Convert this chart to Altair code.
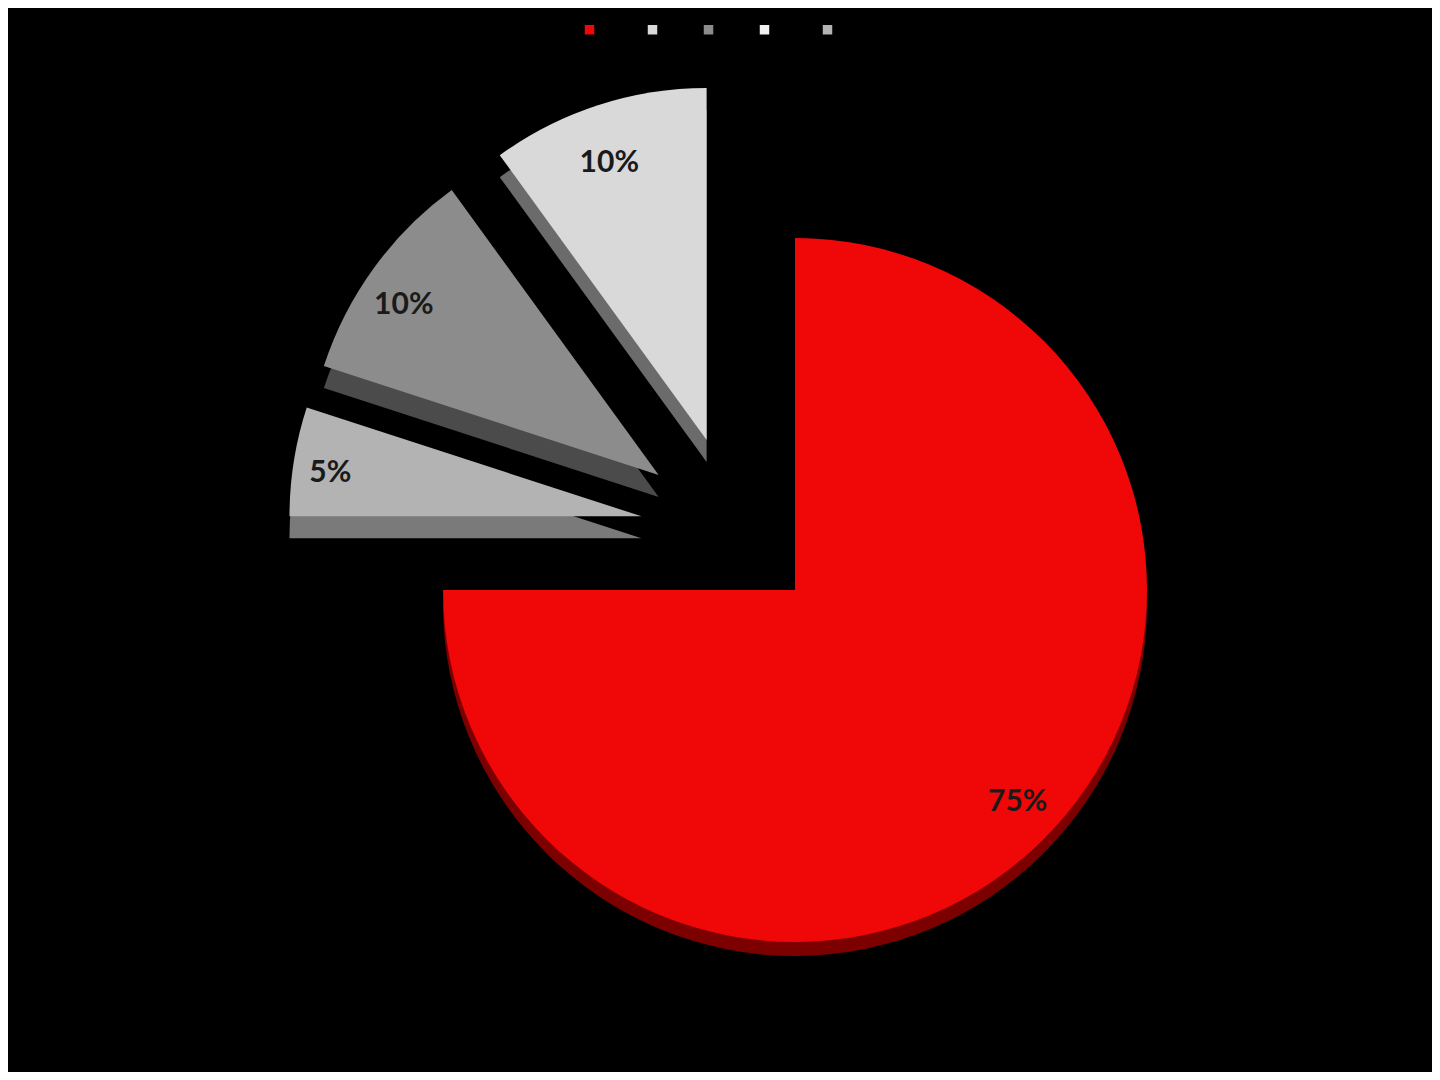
import altair as alt
import pandas as pd

# ---- data ----
categories = ["Primary", "Part A", "Part B", "Unused", "Part C"]
shares = [75, 10, 10, 0, 5]
# clockwise drawing order starting at 12 o'clock
draw_rank = [0, 4, 3, 1.5, 1]

# ---- styles ----
top_colors = ["#f00808", "#d9d9d9", "#8c8c8c", "#f2f2f2", "#b3b3b3"]
side_colors = ["#7d0000", "#6b6b6b", "#4b4b4b", "#bdbdbd", "#7a7a7a"]

W, H = 1424, 1064
CX, CY, R = 787, 582, 352
EXP, GEXP, GANG = 96, 83, "7*PI/4"
LABEL_R = 315
TILT = 0.95

df = pd.DataFrame({"cat": categories, "share": shares, "rank": draw_rank})

base = (
    alt.Chart(df)
    .transform_window(cum="sum(share)", sort=[alt.SortField("rank", order="ascending")], frame=[None, 0])
    .transform_joinaggregate(total="sum(share)")
    .transform_calculate(t1="2*PI*datum.cum/datum.total")
    .transform_calculate(t0="2*PI*(datum.cum-datum.share)/datum.total")
    .transform_calculate(mid="(datum.t0+datum.t1)/2")
    .transform_calculate(ex="datum.share/datum.total < 0.5 ? 1 : 0")
    .transform_calculate(cx=f"{CX} + datum.ex*({EXP}*sin(datum.mid) + {GEXP}*sin({GANG}))")
    .transform_calculate(cy=f"{CY} - datum.ex*({EXP}*cos(datum.mid) + {GEXP}*cos({GANG}))")
    .transform_calculate(depth="datum.ex ? 22 : 14")
    .transform_calculate(cys="datum.cy + datum.depth")
    .transform_calculate(lx=f"datum.cx + {LABEL_R}*sin(datum.mid)")
    .transform_calculate(ly=f"{CY} + (datum.cy - {LABEL_R}*cos(datum.mid) - {CY})*{TILT}")
    .transform_calculate(lab="datum.share + '%'")
)

shadow = base.mark_arc(radius=R, strokeWidth=0).encode(
    theta=alt.Theta("t0:Q", scale=None, stack=None),
    theta2="t1:Q",
    x=alt.X("cx:Q", scale=None, axis=None, stack=None),
    y=alt.Y("cys:Q", scale=None, axis=None, stack=None),
    fill=alt.Fill("cat:N", scale=alt.Scale(domain=categories, range=side_colors), legend=None),
)

top = base.mark_arc(radius=R, strokeWidth=0).encode(
    theta=alt.Theta("t0:Q", scale=None, stack=None),
    theta2="t1:Q",
    x=alt.X("cx:Q", scale=None, axis=None, stack=None),
    y=alt.Y("cy:Q", scale=None, axis=None, stack=None),
    color=alt.Color(
        "cat:N",
        scale=alt.Scale(domain=categories, range=top_colors),
        legend=alt.Legend(
            orient="none",
            legendX=576,
            legendY=16,
            direction="horizontal",
            title=None,
            symbolType="square",
            symbolSize=90,
            symbolStrokeWidth=0,
            labelColor="#000000",
            labelFont="Liberation Sans",
            labelFontSize=11,
            labelOffset=5,
            columnPadding=9,
        ),
    ),
)

labels = base.transform_filter("datum.share > 0").mark_text(
    font="Lato", fontWeight="bold", fontSize=30, color="#1a1a1a", align="center", baseline="middle"
).encode(
    x=alt.X("lx:Q", scale=None, axis=None, stack=None),
    y=alt.Y("ly:Q", scale=None, axis=None, stack=None),
    text="lab:N",
)

chart = (
    alt.layer(shadow, top, labels)
    .resolve_scale(color="independent", fill="independent")
    .properties(
        width=W,
        height=H,
        background="#000000",
        padding=0,
        autosize=alt.AutoSizeParams(type="none"),
    )
    .configure_view(stroke=None, fill="#000000")
)

chart.save("out.html", embed_options={"renderer": "svg", "actions": False})
